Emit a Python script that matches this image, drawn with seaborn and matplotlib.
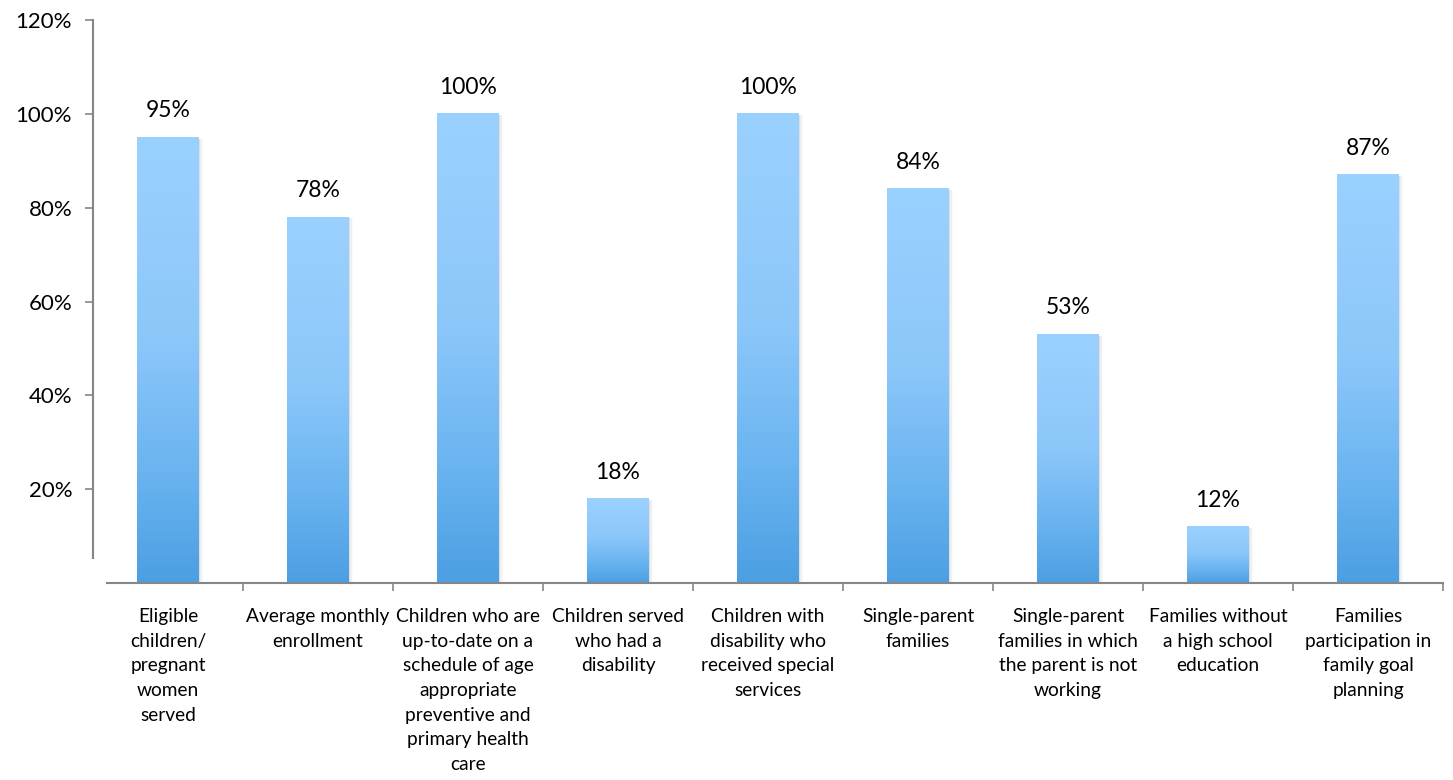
import matplotlib
matplotlib.use("Agg")
import matplotlib.pyplot as plt
import matplotlib.colors as mcolors
import numpy as np
import pandas as pd
import seaborn as sns

# chart data
categories = [
    "Eligible\nchildren/\npregnant\nwomen\nserved",
    "Average monthly\nenrollment",
    "Children who are\nup-to-date on a\nschedule of age\nappropriate\npreventive and\nprimary health\ncare",
    "Children served\nwho had a\ndisability",
    "Children with\ndisability who\nreceived special\nservices",
    "Single-parent\nfamilies",
    "Single-parent\nfamilies in which\nthe parent is not\nworking",
    "Families without\na high school\neducation",
    "Families\nparticipation in\nfamily goal\nplanning",
]
values = [95, 78, 100, 18, 100, 84, 53, 12, 87]
y_ticks = [20, 40, 60, 80, 100, 120]

df = pd.DataFrame({"category": categories, "value": values})

sns.set_theme(style="white")
plt.rcParams["font.family"] = ["Lato", "DejaVu Sans"]

fig = plt.figure(figsize=(14.53, 7.8), dpi=100)
ax = fig.add_axes([93 / 1453, 1 - 583 / 780, (1443 - 93) / 1453, (583 - 20) / 780])

sns.barplot(data=df, x="category", y="value", ax=ax, width=0.407,
            color="#7dbff5", saturation=1, edgecolor="none")

# vertical gradient on each bar: light on top, darker at the bottom
grad_cmap = mcolors.LinearSegmentedColormap.from_list(
    "bar", [(0, "#4c9fe3"), (0.25, "#6ab4f0"), (0.55, "#8cc7fa"), (1, "#9bd1ff")])
grad = np.linspace(0, 1, 256).reshape(-1, 1)
for patch in ax.patches:
    x0, y0 = patch.get_x(), patch.get_y()
    w, h = patch.get_width(), patch.get_height()
    # soft shadow on the right side
    for k, a in [(0.012, 0.07), (0.022, 0.04), (0.032, 0.02)]:
        ax.add_patch(plt.Rectangle((x0 + k, y0), w, h - 0.3, color="#000000",
                                   alpha=a, lw=0, zorder=1.5))
    ax.imshow(grad, cmap=grad_cmap, aspect="auto", origin="lower",
              extent=(x0, x0 + w, y0, y0 + h), zorder=2)
    patch.set_facecolor("none")
    patch.set_zorder(2.5)

ax.set_xlim(-0.5, len(categories) - 0.5)
ax.set_ylim(0, 120)

# data labels
for i, v in enumerate(values):
    ax.annotate(f"{v}%", (i, v), xytext=(0, 11.5), textcoords="offset points",
                ha="center", va="bottom", fontsize=16.5, color="#000000")

ax.set_xlabel("")
ax.set_ylabel("")
ax.set_yticks(y_ticks)
ax.set_yticklabels([f"{t}%" for t in y_ticks])
ax.tick_params(axis="y", length=6, width=1.2, color="#868686", pad=9,
               left=True, labelsize=16, labelcolor="#000000")

ax.tick_params(axis="x", length=0, pad=18, labelsize=13.8, labelcolor="#000000")
for lab in ax.get_xticklabels():
    lab.set_linespacing(1.55)
    lab.set_verticalalignment("top")
ax.set_xticks(np.arange(0.5, len(categories), 1), minor=True)
ax.tick_params(axis="x", which="minor", length=6, width=1.2, color="#868686", bottom=True)

for side in ["top", "right"]:
    ax.spines[side].set_visible(False)
ax.spines["left"].set_bounds(5.3, 120)
ax.spines["left"].set_color("#868686")
ax.spines["left"].set_linewidth(1.5)
ax.spines["bottom"].set_bounds(-0.5 + 14 / 150, len(categories) - 0.5)
ax.spines["bottom"].set_color("#868686")
ax.spines["bottom"].set_linewidth(1.5)

fig.savefig("out.png", dpi=100, facecolor="white")
